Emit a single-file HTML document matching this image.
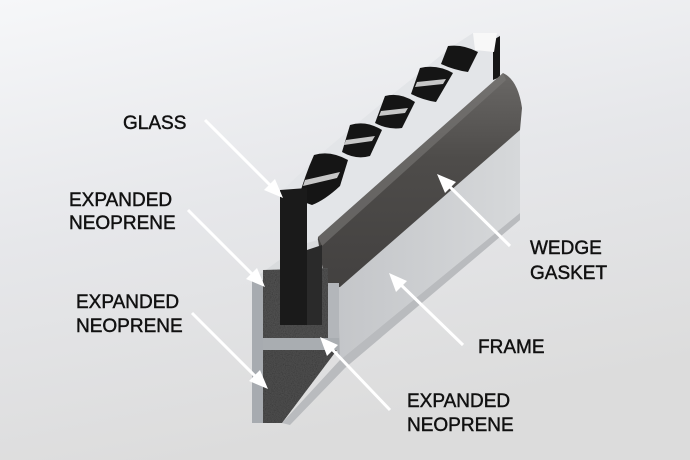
<!DOCTYPE html>
<html><head><meta charset="utf-8"><style>
html,body{margin:0;padding:0}
body{width:690px;height:460px;overflow:hidden}
svg{display:block}
text{font-family:"Liberation Sans",Arial,sans-serif;font-size:19px;fill:#111;stroke:#111;stroke-width:0.45}
</style></head><body>
<svg width="690" height="460" viewBox="0 0 690 460" xmlns="http://www.w3.org/2000/svg">
<defs>
<linearGradient id="bg" x1="0" y1="0" x2="0.3" y2="1">
<stop offset="0" stop-color="#f6f7f9"/><stop offset="0.5" stop-color="#e6e7ea"/><stop offset="1" stop-color="#dcdcdc"/>
</linearGradient>
<linearGradient id="side" x1="0" y1="0" x2="1" y2="0">
<stop offset="0" stop-color="#c4c6c9"/><stop offset="1" stop-color="#d6d8da"/>
</linearGradient>
<linearGradient id="gask" x1="0" y1="0" x2="0" y2="1">
<stop offset="0" stop-color="#6a6866"/><stop offset="0.4" stop-color="#4e4c4a"/><stop offset="1" stop-color="#434140"/>
</linearGradient>
<filter id="noise"><feTurbulence type="fractalNoise" baseFrequency="0.9" numOctaves="2" result="n"/><feColorMatrix type="saturate" values="0"/><feComposite in2="SourceGraphic" operator="in"/><feBlend in="SourceGraphic" mode="multiply"/></filter>
</defs>
<rect width="690" height="460" fill="url(#bg)"/>
<!-- glass sheet -->
<polygon points="283,190 317,157 353,127 388,98 423,70 450,48 473,33 500,35 500,80 325,240 300,250 283,250" fill="#e3e5e8"/>
<g fill="#151515">
<path d="M314,155 Q330,150 348,160 L340,186 Q325,200 312,205 L298,200 Q305,175 314,155 Z"/>
<path d="M350,125 Q366,120 382,130 L370,156 Q356,160 342,152 Z"/>
<path d="M385,96 Q400,92 415,102 L402,128 Q388,130 375,123 Z"/>
<path d="M420,68 Q437,64 453,73 L436,102 Q423,100 411,94 Z"/>
<path d="M448,46 Q463,44 478,52 L468,72 Q454,70 441,64 Z"/>
<polygon points="493,40 500,36 500,77 493,80"/>
</g>
<g fill="#f4f4f4" opacity="0.8">
<polygon points="305,180 340,172 337,178 303,186"/>
<polygon points="346,140 375,136 372,141 344,145"/>
<polygon points="381,111 408,108 405,113 379,116"/>
<polygon points="417,82 446,79 443,84 415,87"/>
</g>
<polygon points="473,33 497,33 494,52 475,50" fill="#f8f8f8"/>
<!-- frame side face -->
<polygon points="338,285 520,128 520,213 340,360" fill="url(#side)"/>
<polygon points="282,423 340,360 520,213 520,220 345,368 290,425" fill="#b9bbbe"/>
<!-- gasket -->
<path d="M318,237 L503,73 Q518,80 522,108 L520,130 L340,287 Q328,288 325,282 Q316,260 318,237 Z" fill="url(#gask)"/>
<path d="M318,237 L503,73 L506,80 L322,246 Z" fill="#7a7876" opacity="0.6"/>
<!-- frame top lip -->
<polygon points="252,280 300,245 318,240 325,283 262,283" fill="#d9dbdd"/>
<!-- cross section frame -->
<polygon points="252,280 262,283 328,283 338,285 340,360 337,350 263,350 263,423 252,423" fill="#a9acb0"/>
<rect x="252" y="280" width="11" height="143" fill="#a7abb0"/>
<rect x="328" y="283" width="11" height="67" fill="#b3b6ba"/>
<rect x="263" y="338" width="76" height="12" fill="#a9adb1"/>
<!-- neoprene -->
<polygon points="263,270 328,268 328,338 263,338" fill="#555" filter="url(#noise)"/>
<polygon points="263,350 337,350 282,423 263,423" fill="#525252" filter="url(#noise)"/>
<!-- glass front -->
<polygon points="280,190 307,188 307,325 280,325" fill="#1a1a1a"/>
<polygon points="307,250 322,245 322,325 307,325" fill="#2a2a2a"/>
<!-- arrows -->
<g stroke="#fff" stroke-width="3" fill="none">
<line x1="205" y1="120" x2="274" y2="189"/>
<line x1="188" y1="210" x2="256" y2="278"/>
<line x1="192" y1="313" x2="259" y2="380"/>
<line x1="510" y1="246" x2="446" y2="183"/>
<line x1="463" y1="345" x2="397" y2="281"/>
<line x1="390" y1="410" x2="328" y2="345"/>
</g>
<g fill="#fff">
<polygon points="283,198 264,190 275,179"/>
<polygon points="265,287 246,279 257,268"/>
<polygon points="268,389 249,381 260,370"/>
<polygon points="437,174 456,182 445,193"/>
<polygon points="389,273 407,281 396,292"/>
<polygon points="320,337 338,345 327,356"/>
</g>
<text x="123" y="129">GLASS</text>
<text x="69" y="206">EXPANDED</text>
<text x="69" y="229">NEOPRENE</text>
<text x="76" y="308">EXPANDED</text>
<text x="76" y="332">NEOPRENE</text>
<text x="530" y="254">WEDGE</text>
<text x="530" y="279">GASKET</text>
<text x="478" y="353">FRAME</text>
<text x="407" y="407">EXPANDED</text>
<text x="407" y="431">NEOPRENE</text>
</svg>
</body></html>
